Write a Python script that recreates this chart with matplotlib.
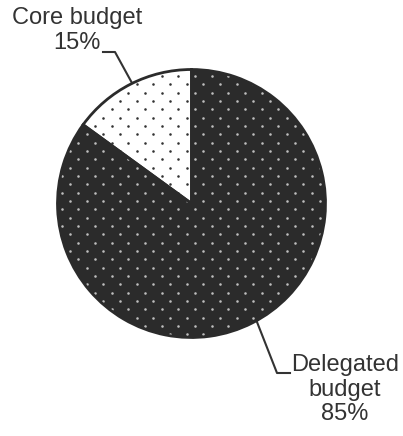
import matplotlib.pyplot as plt
import numpy as np

plt.rcParams['font.family'] = ['Liberation Sans', 'DejaVu Sans']

labels = ['Core budget\n15%', 'Delegated\nbudget\n85%']
shares = [15, 85]
fills = ['white', '#2b2b2b']
dot_colors = ['#333333', '#bdbdbd']

W, H = 403, 436
fig = plt.figure(figsize=(W / 100, H / 100), dpi=100)
ax = fig.add_axes([0, 0, 1, 1])

cx, cy, r = 191.5, H - 203.5, 134

wedges, _ = ax.pie(shares, startangle=90, counterclock=True, center=(cx, cy),
                   radius=r, colors=fills, frame=True,
                   wedgeprops=dict(linewidth=0))

# dotted screen texture (staggered rows), clipped to each wedge
step_x, step_y = 16.67, 8.33
gx, gy = [], []
for i, y in enumerate(np.arange(H - 109.3 - 40 * step_y, H, step_y)):
    xs = np.arange(111.7 % step_x + (i % 2) * step_x / 2 - step_x, W, step_x)
    gx.extend(xs)
    gy.extend([y] * len(xs))
for w, dc in zip(wedges, dot_colors):
    sc = ax.scatter(gx, gy, s=3.4, color=dc, linewidths=0, zorder=3)
    sc.set_clip_path(w)

# outlines
ax.pie(shares, startangle=90, counterclock=True, center=(cx, cy), radius=r,
       frame=True, wedgeprops=dict(fill=False, edgecolor='#2b2b2b',
                                   linewidth=2, zorder=4))
ax.set_xlim(0, W)
ax.set_ylim(0, H)
ax.axis('off')

txt = dict(color='#333333', fontsize=17, ha='center', va='top', linespacing=1.15)
ax.text(77, H - 7, labels[0], **txt)
ax.text(345, H - 354, labels[1], **txt)

lc = dict(color='#333333', linewidth=1.5)
ax.plot([103, 115, 132], [H - 52, H - 52, H - 83], **lc)
ax.plot([257, 277, 290], [H - 322, H - 373, H - 373], **lc)

fig.savefig('out.png', dpi=100)
